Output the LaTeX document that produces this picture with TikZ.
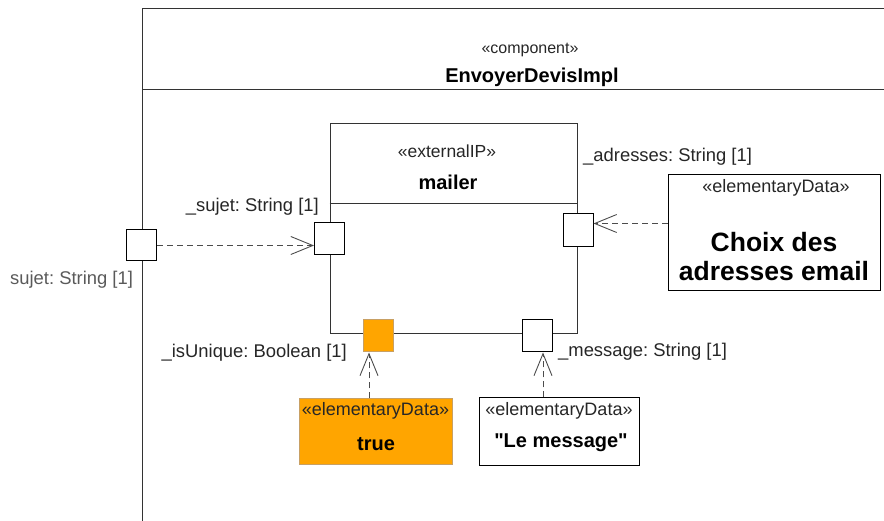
\documentclass[tikz,border=0pt]{standalone}
\usepackage{fontspec}
\setmainfont{Liberation Sans}[Ligatures=TeXOff]
\usetikzlibrary{arrows.meta,positioning}
\frenchspacing

\definecolor{dataorange}{HTML}{FFA500}
\definecolor{dataedge}{HTML}{C8A064}
\definecolor{linegray}{HTML}{333333}
\definecolor{txtgray}{HTML}{5A5A5A}

\begin{document}
\begin{tikzpicture}[
    x=1pt, y=-1pt,
    frame/.style={
        rectangle,
        draw=linegray,
        line width=1pt,
        anchor=north west,
        inner sep=0pt
    },
    part/.style={
        rectangle,
        draw=linegray,
        line width=1pt,
        minimum width=247pt,
        minimum height=210pt,
        inner sep=0pt
    },
    port/.style={
        rectangle,
        draw=black,
        line width=1pt,
        fill=white,
        minimum width=30pt,
        minimum height=32pt,
        inner sep=0pt
    },
    datum/.style={
        rectangle,
        draw=black,
        line width=1pt,
        fill=white,
        inner sep=0pt
    },
    stereo/.style={font=\fontsize{18}{20}\selectfont, text=black!85, inner sep=0pt, anchor=base},
    title/.style={font=\fontsize{20}{24}\selectfont\bfseries, inner sep=0pt, anchor=base},
    lbl/.style={font=\fontsize{18.4}{20}\selectfont, text=black!85, inner sep=0pt},
    darr/.style={-{Straight Barb[length=22pt, width=18pt]}, dash pattern=on 6pt off 4pt,
        draw=black!70, line width=0.9pt},
]

\useasboundingbox (0,0) rectangle (884,521);
\clip (0,0) rectangle (884,521);

% component frame
\node[frame, minimum width=800pt, minimum height=560pt] (component) at (142,8) {};
\draw[linegray, line width=1pt] ([yshift=-82pt]component.north west) -- ([yshift=-82pt]component.north east);
\node[stereo, font=\fontsize{16}{18}\selectfont] (compstereo) at (530,54) {«component»};
\node[title] (compname) at (532,83) {EnvoyerDevisImpl};

% part
\node[part] (mailer) at (453.5,229) {};
\draw[linegray, line width=1pt] ([yshift=-80pt]mailer.north west) -- ([yshift=-80pt]mailer.north east);
\node[stereo, font=\fontsize{17.5}{20}\selectfont] (mailerstereo) at (447,158) {«externalIP»};
\node[title] (mailername) at (448,190) {mailer};

% ports
\node[port, minimum height=31pt] (sujetout) at (141.5,245.5) {};
\node[port] (sujetin) at (329.5,239) {};
\node[port, minimum height=33pt] (adresses) at (578,230.5) {};
\node[port, fill=dataorange, draw=dataedge] (isunique) at (378,336) {};
\node[port] (message) at (537,336) {};

% port labels
\node[lbl, anchor=base east] (lsujetin) at (319,212) {\_sujet: String [1]};
\node[lbl, anchor=base west, text=txtgray] (lsujetout) at (10,285) {sujet: String [1]};
\node[lbl, anchor=base west] (ladresses) at (583,162) {\_adresses: String [1]};
\node[lbl, anchor=base east] (lisunique) at (347,358) {\_isUnique: Boolean [1]};
\node[lbl, anchor=base west] (lmessage) at (558,357) {\_message: String [1]};

% data
\node[datum, minimum width=212pt, minimum height=116pt] (choix) at (774,233) {};
\node[stereo] at (776,193) {«elementaryData»};
\node[title, font=\fontsize{26.5}{30}\selectfont\bfseries] at (774,252) {Choix des};
\node[title, font=\fontsize{26.5}{30}\selectfont\bfseries] at (774,281) {adresses email};

\node[datum, fill=dataorange, draw=dataedge, minimum width=153pt, minimum height=65pt] (vrai) at (375.5,431.5) {};
\node[stereo] at (375.5,415) {«elementaryData»};
\node[title] at (376,450) {true};

\node[datum, minimum width=160pt, minimum height=67pt] (lemessage) at (559,431.5) {};
\node[stereo] at (559,416) {«elementaryData»};
\node[title] at (561,447) {"Le message"};

% arrows
\draw[darr] (sujetout.east) -- (sujetin.west |- sujetout.east);
\draw[darr] ([yshift=7pt]choix.west |- adresses.east) -- ([yshift=7pt]adresses.east);
\draw[darr] ([xshift=-9pt]isunique.south |- vrai.north) -- ([xshift=-9pt]isunique.south);
\draw[darr] ([xshift=6pt]message.south |- lemessage.north) -- ([xshift=6pt]message.south);

\end{tikzpicture}
\end{document}
